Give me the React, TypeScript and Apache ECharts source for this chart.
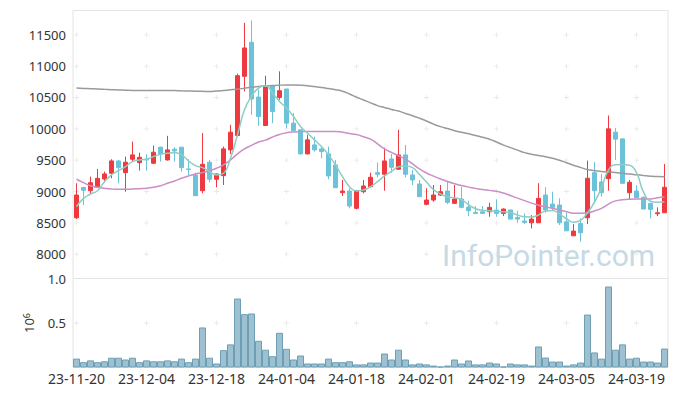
import React, { useEffect, useRef } from 'react';
import * as echarts from 'echarts';

const DATES = [
  '23-11-20','23-11-21','23-11-22','23-11-23','23-11-24','23-11-27','23-11-28','23-11-29','23-11-30','23-12-01',
  '23-12-04','23-12-05','23-12-06','23-12-07','23-12-08','23-12-11','23-12-12','23-12-13','23-12-14','23-12-15',
  '23-12-18','23-12-19','23-12-20','23-12-21','23-12-22','23-12-26','23-12-27','23-12-28','24-01-02','24-01-03',
  '24-01-04','24-01-05','24-01-08','24-01-09','24-01-10','24-01-11','24-01-12','24-01-15','24-01-16','24-01-17',
  '24-01-18','24-01-19','24-01-22','24-01-23','24-01-24','24-01-25','24-01-26','24-01-29','24-01-30','24-01-31',
  '24-02-01','24-02-02','24-02-05','24-02-06','24-02-07','24-02-08','24-02-13','24-02-14','24-02-15','24-02-16',
  '24-02-19','24-02-20','24-02-21','24-02-22','24-02-23','24-02-26','24-02-27','24-02-28','24-02-29','24-03-04',
  '24-03-05','24-03-06','24-03-07','24-03-08','24-03-11','24-03-12','24-03-13','24-03-14','24-03-15','24-03-18',
  '24-03-19','24-03-20','24-03-21','24-03-22','24-03-25',
];

const OPEN = [
  8581,9064,9013,9077,9200,9291,9488,9301,9515,9461,
  9515,9451,9707,9504,9675,9707,9360,9264,9013,9467,
  9195,9253,9664,9893,10837,11381,10507,10053,10688,10501,
  10635,10091,9984,9600,9744,9680,9600,9424,8981,9008,
  8731,8997,9077,9301,9275,9520,9355,9584,9264,9120,
  8795,8864,8944,9008,8811,8880,8752,8667,8677,8677,
  8704,8651,8704,8587,8528,8501,8501,8944,8800,8784,
  8517,8293,8491,8581,9301,9152,9205,9947,9840,8981,
  9008,8907,8811,8645,8661,
];
const CLOSE = [
  8944,9020,9141,9211,9280,9488,9381,9467,9584,9547,
  9505,9627,9600,9664,9648,9381,9350,8933,9435,9195,
  9280,9680,9947,10848,11291,10475,10197,10688,10277,10608,
  10091,9973,9600,9824,9664,9637,9248,9061,9008,8768,
  9013,9088,9227,9275,9488,9387,9584,9275,9184,8917,
  8864,8944,8997,8827,8880,8747,8693,8651,8651,8747,
  8651,8720,8560,8560,8507,8560,8891,8704,8747,8501,
  8373,8368,8341,9211,9013,8981,10000,9835,9131,9147,
  8901,8720,8715,8660,9067,
];
const LOW = [
  8560,8784,8944,9067,9141,9211,9131,8997,9477,9333,
  9333,9440,9477,9493,9477,9317,9264,8928,8971,9147,
  9067,9104,9595,9877,10597,10224,10048,10048,10091,10464,
  10011,9957,9590,9595,9637,9531,9195,9055,8928,8731,
  8715,8971,9067,9227,9013,9301,9344,9227,9104,8910,
  8780,8837,8928,8800,8800,8731,8608,8640,8645,8597,
  8597,8608,8555,8501,8480,8411,8501,8661,8700,8464,
  8373,8293,8197,8480,8811,8917,9013,9504,9131,8864,
  8901,8720,8571,8608,8661,
];
const HIGH = [
  9131,9075,9237,9360,9317,9515,9504,9557,9797,9621,
  9595,9733,9717,9888,9707,9712,9515,9301,9931,9504,
  9285,9717,10064,10880,11691,11728,10624,10848,10690,10917,
  10640,10251,9990,9904,9877,9717,9717,9504,9184,9051,
  9013,9184,9301,9461,9701,9600,9984,9744,9344,9184,
  9051,9104,9104,9157,9104,9077,8853,8768,8768,8821,
  8875,8730,8715,8693,8651,8624,9131,9067,8997,8891,
  8661,8480,8571,9493,9467,9280,10213,10011,9840,9184,
  9100,8920,8820,8747,9440,
];
const VOLUME = [
  100000,60000,80000,60000,70000,110000,110000,90000,110000,60000,
  80000,70000,70000,80000,70000,100000,60000,100000,450000,110000,
  45000,195000,260000,775000,600000,607000,300000,200000,127000,390000,
  210000,90000,135000,45000,45000,45000,100000,60000,60000,70000,
  35000,35000,56000,56000,157000,90000,200000,90000,35000,45000,
  35000,22000,11000,22000,90000,45000,79000,35000,35000,56000,
  45000,11000,45000,35000,35000,22000,236000,112000,67000,67000,
  22000,35000,56000,595000,169000,100000,910000,200000,260000,100000,
  110000,67000,67000,56000,213000,
];
const MA5 = [
  8757,8891,8960,9013,9157,9264,9333,9397,9477,9504,
  9515,9557,9595,9611,9621,9584,9488,9413,9381,9317,
  9264,9291,9531,9904,10304,10517,10651,10688,10571,10437,
  10331,10197,10037,9931,9824,9717,9584,9424,9237,9077,
  9008,9024,9077,9157,9250,9320,9395,9405,9380,9270,
  9150,9030,8960,8915,8900,8870,8790,8725,8700,8693,
  8685,8677,8665,8625,8597,8595,8625,8690,8695,8640,
  8565,8510,8540,8660,8830,9060,9340,9428,9430,9418,
  9300,8990,8845,8830,8837,
];
const MA20 = [
  9195,9141,9093,9067,9051,9040,9035,9035,9040,9045,
  9051,9067,9093,9131,9168,9211,9248,9280,9301,9333,
  9371,9424,9504,9600,9680,9735,9790,9820,9870,9910,
  9938,9950,9955,9957,9957,9957,9957,9958,9945,9925,
  9908,9875,9835,9760,9680,9625,9570,9518,9440,9360,
  9295,9245,9200,9160,9125,9095,9070,9050,9032,9018,
  9003,8975,8935,8895,8855,8815,8782,8755,8730,8705,
  8677,8655,8655,8660,8690,8730,8800,8850,8870,8878,
  8880,8880,8882,8900,8912,
];
const MA_LONG = [
  10651,10645,10640,10636,10630,10625,10620,10616,10613,10613,
  10613,10613,10613,10612,10610,10607,10604,10600,10598,10597,
  10603,10612,10622,10633,10648,10663,10676,10684,10690,10696,
  10699,10698,10695,10688,10674,10660,10643,10625,10600,10555,
  10505,10460,10415,10370,10340,10310,10283,10245,10210,10170,
  10125,10075,10035,10005,9970,9945,9920,9895,9865,9835,
  9790,9740,9700,9660,9620,9595,9575,9555,9530,9500,
  9460,9420,9385,9350,9335,9320,9312,9302,9290,9280,
  9268,9256,9245,9238,9236,
];

const PRICE_TICKS = [8000, 8500, 9000, 9500, 10000, 10500, 11000, 11500];
const VOLUME_TICKS = [500000];
const LABEL_EVERY = 10;

const FONT = '"Noto Sans", sans-serif';
const PLUS = 'path://M2.5,0H3.5V2.5H6V3.5H3.5V6H2.5V3.5H0V2.5H2.5Z';

export default function App() {
  const ref = useRef<HTMLDivElement>(null);
  useEffect(() => {
    const chart = echarts.init(ref.current!, null, { renderer: 'svg' });
    const crossCats = DATES.filter((_, i) => i % LABEL_EVERY === 0);
    const priceCross: any[] = [];
    crossCats.forEach((d) => PRICE_TICKS.forEach((v) => priceCross.push([d, v])));
    const volCross: any[] = [];
    crossCats.forEach((d) => VOLUME_TICKS.forEach((v) => volCross.push([d, v])));

    const option: any = {
      animation: false,
      textStyle: { fontFamily: FONT },
      grid: [
        { left: 73, right: 9, top: 10.5, height: 268, show: true, borderColor: '#e4e4e4', borderWidth: 1 },
        { left: 73, right: 9, top: 278.5, height: 89, show: true, borderColor: '#e4e4e4', borderWidth: 1 },
      ],
      xAxis: [
        {
          type: 'category', gridIndex: 0, data: DATES, boundaryGap: true,
          axisLine: { show: false }, axisTick: { show: false }, axisLabel: { show: false }, splitLine: { show: false },
        },
        {
          type: 'category', gridIndex: 1, data: DATES, boundaryGap: true,
          axisLine: { show: false }, axisTick: { show: false }, splitLine: { show: false },
          axisLabel: { interval: LABEL_EVERY - 1, fontSize: 14, color: '#333', margin: 4, fontFamily: FONT },
        },
      ],
      yAxis: [
        {
          type: 'value', gridIndex: 0, min: 7612, max: 11888, splitNumber: 8, minInterval: 500, maxInterval: 500,
          axisLine: { show: false }, axisTick: { show: false }, splitLine: { show: false },
          axisLabel: {
            fontSize: 13, color: '#333', margin: 7, fontFamily: FONT,
            showMinLabel: false, showMaxLabel: false, formatter: (v: number) => String(v),
          },
        },
        {
          type: 'value', gridIndex: 1, min: 0, max: 1000000, interval: 500000,
          axisLine: { show: false }, axisTick: { show: false }, splitLine: { show: false },
          axisLabel: {
            fontSize: 13, color: '#333', margin: 7, fontFamily: FONT, showMinLabel: false,
            formatter: (v: number) => (v / 1e6).toFixed(1),
          },
          name: '{a|10}{b|6}', nameLocation: 'middle', nameRotate: 90, nameGap: 38,
          nameTextStyle: {
            rich: {
              a: { fontSize: 13, color: '#333', fontFamily: FONT },
              b: { fontSize: 9, color: '#333', fontFamily: FONT, verticalAlign: 'top' },
            },
          },
        },
      ],
      graphic: [
        {
          type: 'text', x: 442, y: 255, z: 0, silent: true,
          style: {
            text: 'InfoPointer.com', fontSize: 30, fontFamily: 'Roboto', fill: '#c6dae5',
            align: 'left', verticalAlign: 'middle',
          },
        },
      ],
      series: [
        {
          type: 'scatter', xAxisIndex: 0, yAxisIndex: 0, data: priceCross, symbol: PLUS, symbolSize: 5,
          itemStyle: { color: '#e2e2e2' }, silent: true, z: 1,
        },
        {
          type: 'scatter', xAxisIndex: 1, yAxisIndex: 1, data: volCross, symbol: PLUS, symbolSize: 5,
          itemStyle: { color: '#e2e2e2' }, silent: true, z: 1,
        },
        {
          type: 'candlestick', xAxisIndex: 0, yAxisIndex: 0, barWidth: '70%',
          data: OPEN.map((o, i) => [o, CLOSE[i], LOW[i], HIGH[i]]),
          itemStyle: { color: '#ee3a3e', color0: '#6cc3d9', borderColor: '#ee3a3e', borderColor0: '#6cc3d9', borderWidth: 1 },
          silent: true, z: 3,
        },
        {
          type: 'line', xAxisIndex: 0, yAxisIndex: 0, data: MA_LONG, smooth: true, showSymbol: false,
          lineStyle: { color: '#9a9a9a', width: 1.5 }, silent: true, z: 4,
        },
        {
          type: 'line', xAxisIndex: 0, yAxisIndex: 0, data: MA20, smooth: true, showSymbol: false,
          lineStyle: { color: '#cc8ec6', width: 1.5 }, silent: true, z: 4,
        },
        {
          type: 'line', xAxisIndex: 0, yAxisIndex: 0, data: MA5, smooth: true, showSymbol: false,
          lineStyle: { color: '#8ecdc3', width: 1.5 }, silent: true, z: 5,
        },
        {
          type: 'bar', xAxisIndex: 1, yAxisIndex: 1, data: VOLUME, barCategoryGap: '0%',
          itemStyle: { color: '#9dc1d1', borderColor: '#6e9fb5', borderWidth: 1 }, silent: true, z: 2,
        },
      ],
    };
    chart.setOption(option);
    return () => chart.dispose();
  }, []);
  return <div ref={ref} style={{ position: 'absolute', left: 0, top: 0, width: 677, height: 396 }} />;
}
